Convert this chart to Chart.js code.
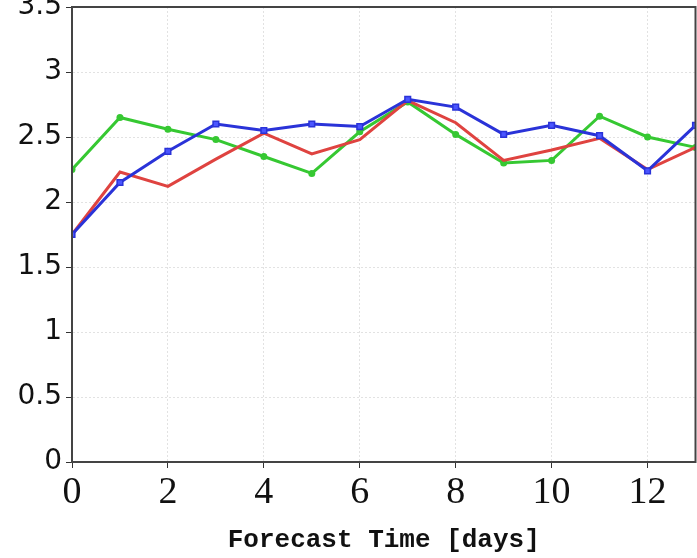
<!DOCTYPE html>
<html>
<head>
<meta charset="utf-8">
<script src="https://cdn.jsdelivr.net/npm/chart.js@4"></script>
<style>
  html, body { margin: 0; padding: 0; background: #fff; overflow: hidden; }
  #wrap { width: 697px; height: 558px; overflow: hidden; }
</style>
</head>
<body>
<div id="wrap"><canvas id="chart" width="701" height="558"></canvas></div>
<script>
// forecast days
const days = [0, 1, 2, 3, 4, 5, 6, 7, 8, 9, 10, 11, 12, 13];

// series values
const redVals   = [1.75, 2.23, 2.12, 2.33, 2.53, 2.37, 2.48, 2.78, 2.61, 2.32, 2.40, 2.49, 2.25, 2.42];
const greenVals = [2.25, 2.65, 2.56, 2.48, 2.35, 2.22, 2.54, 2.77, 2.52, 2.30, 2.32, 2.66, 2.50, 2.42];
const blueVals  = [1.75, 2.15, 2.39, 2.60, 2.55, 2.60, 2.58, 2.79, 2.73, 2.52, 2.59, 2.51, 2.24, 2.59];

// tick labels
const xTickVals = [0, 2, 4, 6, 8, 10, 12];

function pts(vals) {
    return vals.map((v, i) => ({ x: days[i], y: v }));
}

// draws the box around the plot area
const frame = {
    id: 'frame',
    afterDraw(chart) {
        const a = chart.chartArea;
        const ctx = chart.ctx;
        ctx.save();
        ctx.strokeStyle = '#444';
        ctx.lineWidth = 2;
        ctx.strokeRect(a.left, a.top, a.right - a.left, a.bottom - a.top);
        ctx.restore();
    }
};

const ctx = document.getElementById('chart').getContext('2d');
const chart = new Chart(ctx, {
    type: 'line',
    data: {
        datasets: [
            {
                data: pts(blueVals),
                borderColor: '#2a33d8',
                backgroundColor: '#4a55ff',
                borderWidth: 3,
                pointStyle: 'rect',
                pointRadius: 4,
                pointBorderWidth: 1.5,
                pointBorderColor: '#2a33d8',
            },
            {
                data: pts(redVals),
                borderColor: '#df4340',
                borderWidth: 3,
                pointRadius: 0,
            },
            {
                data: pts(greenVals),
                borderColor: '#36c832',
                backgroundColor: '#36c832',
                borderWidth: 3,
                pointStyle: 'circle',
                pointRadius: 3.5,
                pointBorderWidth: 0,
            },
        ],
    },
    options: {
        responsive: false,
        animation: false,
        layout: { padding: { top: 7, right: 0, left: 0, bottom: 0 } },
        plugins: { legend: { display: false }, tooltip: { enabled: false } },
        elements: { line: { tension: 0 } },
        scales: {
            x: {
                type: 'linear',
                min: 0,
                max: 13,
                afterBuildTicks(scale) {
                    scale.ticks = xTickVals.map(v => ({ value: v }));
                },
                afterFit(scale) {
                    scale.height = 96;
                    scale.paddingLeft = 0;
                    scale.paddingRight = 0;
                },
                ticks: {
                    color: '#111',
                    padding: 2,
                    maxRotation: 0,
                    font: { family: 'Liberation Serif', size: 38 },
                },
                grid: { color: '#e2e2e2', tickColor: '#333', tickLength: 6, lineWidth: 1 },
                border: { color: '#444', width: 2, dash: [2, 2] },
                title: {
                    display: true,
                    text: 'Forecast Time [days]',
                    color: '#111',
                    padding: { top: 0, bottom: 2 },
                    font: { family: 'Liberation Mono', size: 26, weight: 'bold' },
                },
            },
            y: {
                min: 0,
                max: 3.5,
                afterFit(scale) {
                    scale.width = 72;
                    scale.paddingTop = 0;
                    scale.paddingBottom = 0;
                },
                ticks: {
                    stepSize: 0.5,
                    color: '#111',
                    padding: 4,
                    callback: (v) => String(v),
                    font: { family: 'DejaVu Sans', size: 28 },
                },
                grid: { color: '#e2e2e2', tickColor: '#333', tickLength: 6, lineWidth: 1 },
                border: { color: '#444', width: 2, dash: [2, 2] },
            },
        },
    },
    plugins: [frame],
});
</script>
</body>
</html>
